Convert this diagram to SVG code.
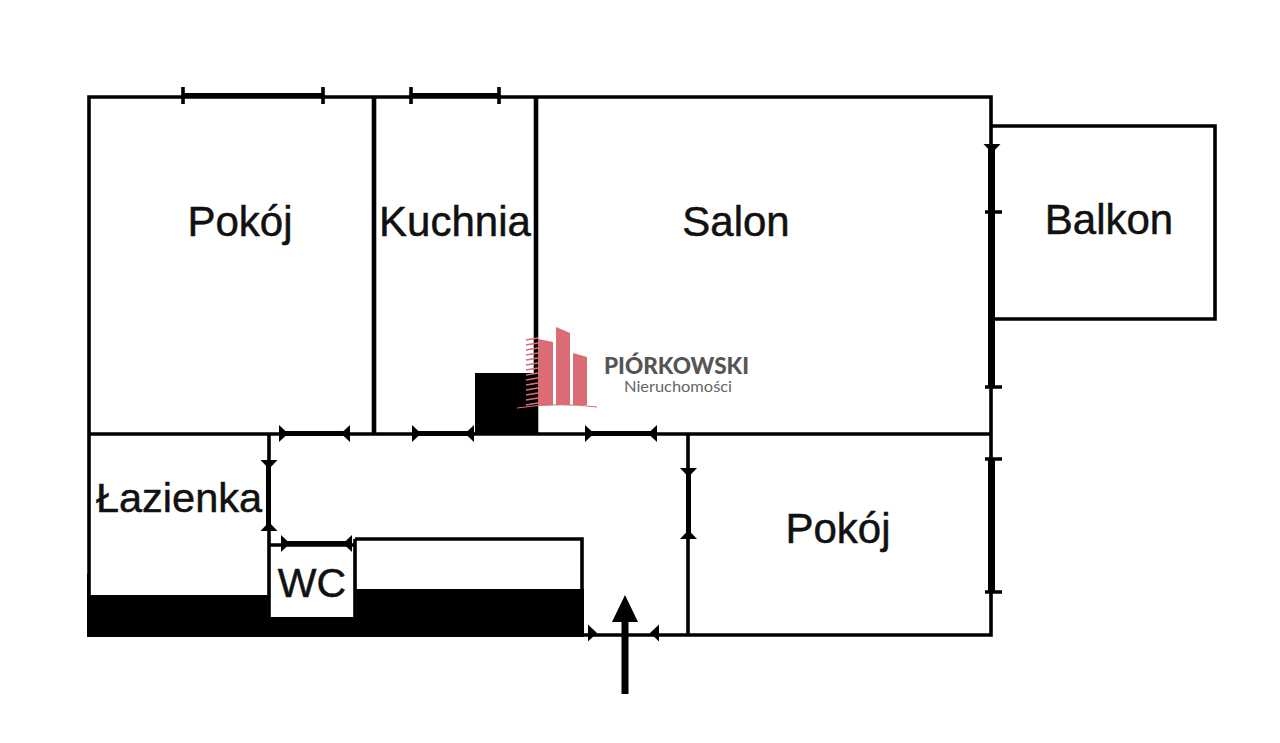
<svg xmlns="http://www.w3.org/2000/svg" width="1280" height="743" viewBox="0 0 1280 743">
<defs>
<style>
.w{stroke:#000;stroke-width:3.6;fill:none}
.t{stroke:#000;stroke-width:5;fill:none}
.s{stroke:#000;stroke-width:7;fill:none}
.m{stroke:#000;stroke-width:4.600;fill:none}
.f{fill:#000}
.l{font-family:"Liberation Sans",Arial,sans-serif;font-size:42px;fill:#111;stroke:#111;stroke-width:.5;text-anchor:middle}
.h{stroke:#d96c75;stroke-width:1.6}
.b{fill:#d96c75}
</style>
<path id="ar" d="M0 -8.500L9 0L0 8.500Z" fill="#000"/>
<path id="al" d="M0 -8.500L-9 0L0 8.500Z" fill="#000"/>
<path id="ad" d="M-8.500 0L8.500 0L0 9Z" fill="#000"/>
<path id="au" d="M-8.500 0L8.500 0L0 -9Z" fill="#000"/>
</defs>
<rect width="1280" height="743" fill="#fff"/>
<g id="walls">
<path class="w" d="M89 635V97H991V635H88M89 434H991M991 126H1215V319H991M269 434V617M269 545H355M355 539H582V635M355 539V617M688 434V635"/>
<path class="m" d="M374 97V434M536 97V434"/>
<rect class="f" x="87" y="595" width="183" height="42"/>
<rect class="f" x="87" y="574" width="3" height="22"/>
<rect class="f" x="270" y="617" width="86" height="20"/>
<rect class="f" x="356" y="589" width="228" height="48"/>
<rect class="f" x="475" y="373" width="63" height="62"/>
</g>
<g id="openings">
<path class="t" d="M183 95.500H323M411 95.500H499" stroke-width="6"/>
<path class="w" d="M183 87V104M323 87V104M411 87V104M499 87V104"/>
<path class="t" d="M282 433.500H348M414 433.500H472M588 433.500H654M282 543.500H351"/>
<path class="t" d="M268.500 460V526M688.500 470V535"/>
<path class="s" d="M991.500 146V388M991.500 459V592"/>
<path class="w" d="M985 212H1002M985 387H1002M985 459H1002M985 592H1002"/>
<use href="#ad" x="992" y="144"/>
<use href="#ar" x="279" y="433.500"/><use href="#al" x="350" y="433.500"/>
<use href="#ar" x="412" y="433.500"/><use href="#al" x="474" y="433.500"/>
<use href="#ar" x="585" y="433.500"/><use href="#al" x="657" y="433.500"/>
<use href="#ad" x="269" y="460"/><use href="#au" x="269" y="531"/>
<use href="#ar" x="281" y="543.500"/><use href="#al" x="352" y="543.500"/>
<use href="#ad" x="688.500" y="468"/><use href="#au" x="688.500" y="539"/>
<use href="#ar" x="588" y="633"/><use href="#al" x="659" y="633"/>
</g>
<g id="entry-arrow">
<path d="M625 595L638 622H628.500V694H621.500V622H612Z" fill="#000"/>
</g>
<g id="room-pokoj-1"><text class="l" x="240" y="236">Pokój</text></g>
<g id="room-kuchnia"><text class="l" x="455" y="236">Kuchnia</text></g>
<g id="room-salon"><text class="l" x="736" y="236">Salon</text></g>
<g id="room-balkon"><text class="l" x="1109" y="234">Balkon</text></g>
<g id="room-lazienka"><text class="l" x="179" y="512" style="font-size:41.500px">Łazienka</text></g>
<g id="room-wc"><text class="l" x="312" y="597" style="font-size:41px">WC</text></g>
<g id="room-pokoj-2"><text class="l" x="838" y="543">Pokój</text></g>
<g id="logo">
<path class="b" d="M538 339L553 342V405H538Z"/>
<path class="b" d="M556 327L570 333V405H556Z"/>
<path class="b" d="M573 353L587 357V405H573Z"/>
<path class="h" d="M526 340L538 338M526 345L538 343M526 350L538 348M526 355L538 353M526 360L538 358M526 365L538 363M526 370L538 368M526 375L538 373M526 380L538 378M526 385L538 383M526 390L538 388M526 395L538 393M526 400L538 398M526 405L538 403"/>
<path d="M517 408Q556 402 597 407" fill="none" stroke="#d96c75" stroke-width="1.200"/>
<text x="604" y="374" font-family="Lato,'Open Sans',sans-serif" font-weight="900" font-size="23" fill="#555" textLength="145" lengthAdjust="spacingAndGlyphs">PIÓRKOWSKI</text>
<text x="624" y="392" font-family="Lato,'Open Sans',sans-serif" font-weight="400" font-size="15" fill="#666" textLength="108" lengthAdjust="spacingAndGlyphs">Nieruchomości</text>
</g>
</svg>
